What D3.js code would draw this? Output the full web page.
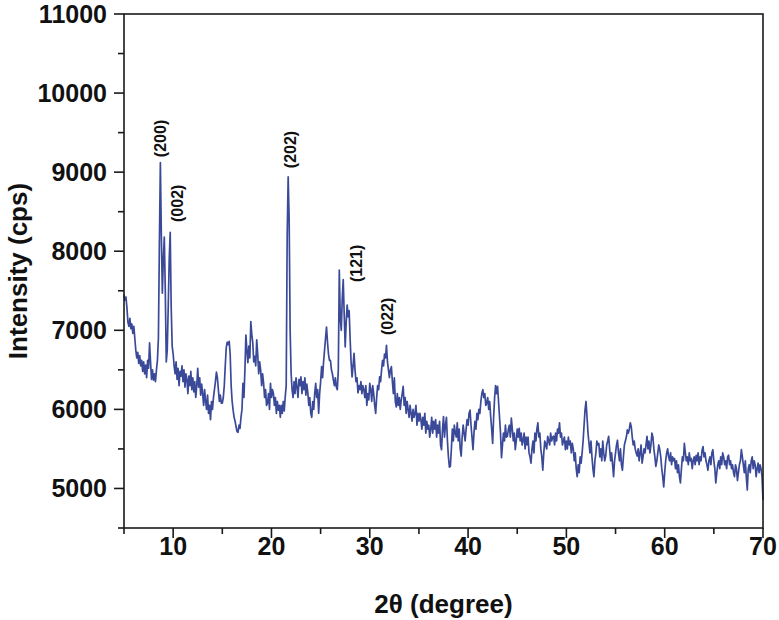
<!DOCTYPE html>
<meta charset="utf-8">
<style>
body { margin: 0; background: #fff; }
svg { display: block; }
.tick-label { font: bold 25px "Liberation Sans", Arial, sans-serif; fill: #111; }
.axis-title { font: bold 26px "Liberation Sans", Arial, sans-serif; fill: #111; }
.peak-label { font: bold 16px "Liberation Sans", Arial, sans-serif; fill: #111; }
</style>
<body>
<svg width="779" height="620"></svg>
<script src="https://cdn.jsdelivr.net/npm/d3@7"></script>
<script>
// scan grid: 5.0 to 70.0 deg, 0.1 deg step
var scanStart = 5, scanStep = 0.1;

// intensity (cps), one row per degree
var intensity = [
  7450, 7380, 7420, 7280, 7100, 7050, 7150, 7020, 7080, 6960,
  7050, 6900, 6750, 6650, 6720, 6580, 6680, 6550, 6620, 6480,
  6600, 6450, 6560, 6400, 6620, 6520, 6840, 6600, 6380, 6500,
  6370, 6450, 6350, 6500, 6620, 6900, 8100, 9120, 8200, 7470,
  7900, 8180, 7500, 6600, 6750, 7300, 7900, 8240, 7300, 6800,
  6700, 6550, 6450, 6600, 6380, 6520, 6300, 6480, 6420, 6550,
  6350, 6500, 6280, 6450, 6380, 6200, 6420, 6300, 6480, 6250,
  6400, 6220, 6350, 6150, 6300, 6520, 6280, 6400, 6180, 6320,
  6200, 6050, 6250, 6100, 6000, 6180, 5950, 6050, 5870, 6100,
  6000, 6150, 6250, 6350, 6470, 6400, 6250, 6100, 6180, 6080,
  6080, 6150, 6300, 6550, 6780, 6850, 6820, 6860, 6700, 6300,
  6100, 5990, 5900, 5850, 5780, 5720, 5710, 5800, 5760, 5900,
  6000, 6330, 6150, 6500, 6940, 6750, 6590, 6800, 6650, 7110,
  6950, 6840, 6600, 6670, 6550, 6880, 6700, 6450, 6600, 6500,
  6300, 6450, 6330, 6150, 6250, 6050, 6080, 6200, 6000, 6330,
  6150, 6250, 6200, 6050, 6150, 5950, 6100, 5990, 6050, 5900,
  6050, 5950, 6100, 5980, 6160, 6300, 8200, 8940, 8400, 7000,
  6450, 6250, 6150, 6350, 6200, 6400, 6280, 6150, 6380, 6300,
  6410, 6200, 6350, 6250, 6400, 6180, 6320, 6210, 6050, 6150,
  5950, 5900, 6100, 6000, 6200, 6330, 6150, 6250, 5950, 6200,
  6350, 6540, 6400, 6600, 6750, 6900, 7040, 6850, 6700, 6620,
  6620, 6500, 6450, 6370, 6300, 6400, 6280, 6250, 6500, 7760,
  7150, 7000, 7400, 7640, 7200, 6790, 7100, 7320, 7170, 7250,
  6900, 6600, 6410, 6550, 6710, 6500, 6350, 6400, 6210, 6300,
  6250, 6350, 6200, 6300, 6250, 6150, 6300, 6050, 6200, 6120,
  6330, 6250, 6100, 6300, 6200, 6050, 5950, 6150, 6300, 6250,
  6410, 6350, 6500, 6620, 6550, 6700, 6650, 6810, 6600, 6500,
  6400, 6500, 6540, 6350, 6200, 6400, 6100, 6030, 6200, 6050,
  6150, 6000, 6120, 6200, 6290, 6050, 6150, 5950, 6100, 6000,
  5900, 6050, 5950, 5850, 6000, 5900, 5950, 6050, 5800, 5950,
  5850, 5950, 5870, 5750, 5900, 5800, 5950, 5700, 5850, 5750,
  5800, 5650, 5750, 5900, 5700, 5850, 5750, 5870, 5650, 5800,
  5700, 5850, 5550, 5490, 5750, 5910, 5650, 5800, 5900, 5600,
  5400, 5270, 5280, 5500, 5750, 5600, 5800, 5700, 5650, 5830,
  5600, 5750, 5500, 5410, 5650, 5800, 5700, 5600, 5750, 5870,
  5800, 5950, 5990, 5800, 5650, 5490, 5700, 5850, 5750, 5950,
  5870, 6000, 5950, 6100, 6200, 6250, 6150, 6200, 6050, 6080,
  6150, 6000, 6100, 5910, 5750, 5570, 5900, 6150, 6300, 6200,
  6290, 6100, 5900, 5700, 5390, 5550, 5700, 5600, 5800, 5650,
  5660, 5750, 5800, 5650, 5890, 5750, 5600, 5700, 5490, 5600,
  5750, 5650, 5760, 5600, 5700, 5550, 5610, 5700, 5500, 5650,
  5550, 5650, 5450, 5400, 5320, 5500, 5600, 5450, 5700, 5600,
  5750, 5830, 5650, 5700, 5500, 5400, 5230, 5450, 5600, 5550,
  5500, 5660, 5600, 5550, 5700, 5600, 5650, 5660, 5550, 5700,
  5600, 5750, 5700, 5830, 5650, 5700, 5550, 5600, 5650, 5490,
  5600, 5500, 5650, 5550, 5600, 5450, 5570, 5500, 5350, 5450,
  5250, 5150, 5300, 5200, 5400, 5320, 5450, 5600, 5800, 6000,
  6100, 5900, 5700, 5570, 5450, 5600, 5400, 5250, 5150, 5350,
  5450, 5600, 5550, 5570, 5400, 5500, 5350, 5600, 5450, 5350,
  5410, 5550, 5600, 5660, 5500, 5350, 5450, 5300, 5150, 5350,
  5450, 5550, 5610, 5450, 5350, 5500, 5300, 5230, 5400, 5550,
  5600, 5650, 5740, 5700, 5750, 5830, 5780, 5650, 5550, 5600,
  5500, 5450, 5410, 5500, 5350, 5450, 5550, 5320, 5400, 5500,
  5450, 5550, 5660, 5500, 5600, 5450, 5550, 5700, 5650, 5500,
  5400, 5280, 5350, 5450, 5550, 5490, 5400, 5250, 5150, 5020,
  5200, 5350, 5450, 5500, 5400, 5350, 5450, 5300, 5400, 5350,
  5380, 5250, 5350, 5200, 5300, 5150, 5070, 5250, 5400, 5350,
  5570, 5450, 5350, 5400, 5300, 5450, 5350, 5380, 5250, 5350,
  5400, 5300, 5420, 5350, 5450, 5300, 5400, 5350, 5480, 5530,
  5400, 5450, 5350, 5300, 5230, 5350, 5400, 5300, 5450, 5490,
  5350, 5250, 5070, 5200, 5300, 5350, 5250, 5400, 5300, 5450,
  5400, 5300, 5350, 5250, 5400, 5420, 5300, 5350, 5250, 5300,
  5200, 5150, 5300, 5250, 5100, 5200, 5300, 5350, 5490, 5400,
  5300, 5200, 5350, 5150, 4980, 5250, 5300, 5200, 5350, 5400,
  5250, 5350, 5300, 5150, 5250, 5320, 5200, 5300, 5250, 5150,
  4850
];

var xTicks = [10, 20, 30, 40, 50, 60, 70];
var xMinor = [5, 15, 25, 35, 45, 55, 65];
var yTicks = [5000, 6000, 7000, 8000, 9000, 10000, 11000];
var yMinor = [4500, 5500, 6500, 7500, 8500, 9500, 10500];

// Miller indices and where their labels sit (deg, cps at label foot)
var peakNames = ["(200)", "(002)", "(202)", "(121)", "(022)"];
var peakAt = [8.7, 10.4, 21.9, 28.6, 31.8];
var peakFoot = [9190, 8370, 9050, 7610, 6940];

var svg = d3.select("svg"),
    plotL = 124, plotR = 763, plotT = 14, plotB = 528;

var x = d3.scaleLinear().domain([5, 70]).range([plotL, plotR]);
var y = d3.scaleLinear().domain([4500, 11000]).range([plotB, plotT]);

var points = intensity.map(function(v, i) {
  return [scanStart + i * scanStep, v];
});

var line = d3.line()
    .x(function(d) { return x(d[0]); })
    .y(function(d) { return y(d[1]); });

svg.append("path")
    .datum(points)
    .attr("fill", "none")
    .attr("stroke", "#3b4a98")
    .attr("stroke-width", 1.7)
    .attr("stroke-linejoin", "round")
    .attr("d", line);

// frame
svg.append("rect")
    .attr("x", plotL).attr("y", plotT)
    .attr("width", plotR - plotL).attr("height", plotB - plotT)
    .attr("fill", "none")
    .attr("stroke", "#1a1a1a")
    .attr("stroke-width", 1.6);

// bottom axis
var gx = svg.append("g").attr("transform", "translate(0," + plotB + ")");
gx.selectAll(".major").data(xTicks).enter().append("line")
    .attr("x1", x).attr("x2", x).attr("y1", 0).attr("y2", 10)
    .attr("stroke", "#1a1a1a").attr("stroke-width", 1.6);
gx.selectAll(".minor").data(xMinor).enter().append("line")
    .attr("x1", x).attr("x2", x).attr("y1", 0).attr("y2", 6)
    .attr("stroke", "#1a1a1a").attr("stroke-width", 1.6);
gx.selectAll("text").data(xTicks).enter().append("text")
    .attr("class", "tick-label")
    .attr("x", x).attr("y", 27)
    .attr("text-anchor", "middle")
    .text(function(d) { return d; });

// left axis
var gy = svg.append("g").attr("transform", "translate(" + plotL + ",0)");
gy.selectAll(".major").data(yTicks).enter().append("line")
    .attr("y1", y).attr("y2", y).attr("x1", 0).attr("x2", -10)
    .attr("stroke", "#1a1a1a").attr("stroke-width", 1.6);
gy.selectAll(".minor").data(yMinor).enter().append("line")
    .attr("y1", y).attr("y2", y).attr("x1", 0).attr("x2", -6)
    .attr("stroke", "#1a1a1a").attr("stroke-width", 1.6);
gy.selectAll("text").data(yTicks).enter().append("text")
    .attr("class", "tick-label")
    .attr("x", -17).attr("y", y)
    .attr("dy", "0.36em")
    .attr("text-anchor", "end")
    .text(function(d) { return d; });

// axis titles
svg.append("text")
    .attr("class", "axis-title")
    .attr("x", (plotL + plotR) / 2).attr("y", 613)
    .attr("text-anchor", "middle")
    .text("2θ (degree)");

svg.append("text")
    .attr("class", "axis-title")
    .attr("transform", "translate(18," + (plotT + plotB) / 2 + ") rotate(-90)")
    .attr("dy", "0.36em")
    .attr("text-anchor", "middle")
    .text("Intensity (cps)");

// peak labels
svg.selectAll(".peak-label").data(peakNames).enter().append("text")
    .attr("class", "peak-label")
    .attr("transform", function(d, i) {
      return "translate(" + x(peakAt[i]) + "," + y(peakFoot[i]) + ") rotate(-90)";
    })
    .attr("dy", "0.36em")
    .text(function(d) { return d; });
</script>
</body>
